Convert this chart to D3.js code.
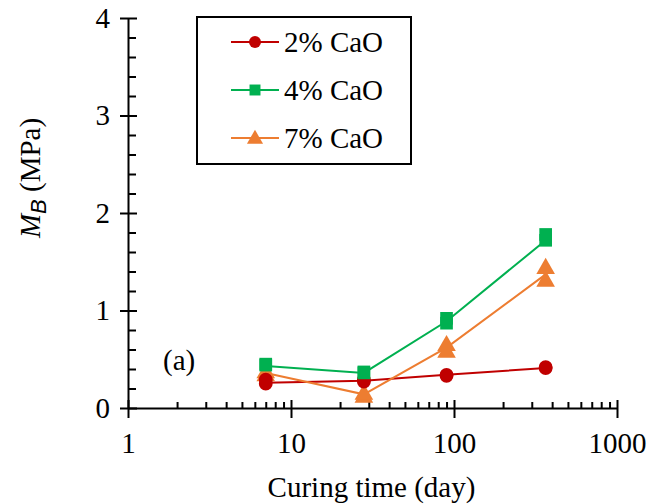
<!DOCTYPE html>
<html>
<head>
<meta charset="utf-8">
<script src="https://cdn.jsdelivr.net/npm/d3@7"></script>
<style>
  html, body { margin: 0; padding: 0; background: #fff; }
  svg { display: block; }
  text { font-family: "Liberation Serif", "Times New Roman", serif; }
</style>
</head>
<body>
<svg id="chart" width="662" height="504"></svg>
<script>
// ---- data ----
const days = [7, 28, 90, 365];
const seriesNames = ["2% CaO", "4% CaO", "7% CaO"];
const cao2Line = [0.26, 0.28, 0.34, 0.41];
const cao2RepA = [0.25, 0.27, 0.33, 0.41];
const cao2RepB = [0.29, 0.29, 0.34, 0.42];
const cao4Line = [0.43, 0.36, 0.89, 1.72];
const cao4RepA = [0.44, 0.36, 0.87, 1.72];
const cao4RepB = [0.45, 0.37, 0.92, 1.78];
const cao7Line = [0.36, 0.14, 0.62, 1.37];
const cao7RepA = [0.34, 0.12, 0.58, 1.31];
const cao7RepB = [0.37, 0.15, 0.65, 1.44];
const xMajorTicks = [1, 10, 100, 1000];
const yMajorTicks = [0, 1, 2, 3, 4];
const panelLabel = "(a)";

const colors = ["#C00000", "#00B050", "#ED7D31"];
const symbols = [d3.symbolCircle, d3.symbolSquare, d3.symbolTriangle];
const symSizes = [150, 160, 150];

const svg = d3.select("#chart");
const x = d3.scaleLog().domain([1, 1000]).range([128, 617]);
const y = d3.scaleLinear().domain([0, 4]).range([408, 18]);
const FS = 29;

// ---- axes ----
const xMinor = x.ticks().filter(v => !xMajorTicks.includes(v));
const yMinor = y.ticks(20).filter(v => !yMajorTicks.includes(v));

function styleAxis(g) {
  g.selectAll("path, line").attr("stroke", "#000").attr("stroke-width", 2);
  g.selectAll("text").attr("fill", "#000").style("font-family", '"Liberation Serif", serif').style("font-size", FS + "px");
}

svg.append("g").attr("transform", `translate(0,${y(0)})`)
  .call(d3.axisBottom(x).tickValues(xMajorTicks).tickFormat(d3.format("d")).tickSizeInner(10).tickSizeOuter(0).tickPadding(14))
  .call(styleAxis)
  .call(g => g.select(".domain").remove());
svg.append("g").attr("transform", `translate(0,${y(0)})`)
  .call(d3.axisTop(x).tickValues(xMajorTicks).tickFormat("").tickSizeInner(8).tickSizeOuter(0))
  .call(styleAxis)
  .call(g => g.select(".domain").remove());
svg.append("g").attr("transform", `translate(0,${y(0)})`)
  .call(d3.axisTop(x).tickValues(xMinor).tickFormat("").tickSizeInner(6).tickSizeOuter(0))
  .call(styleAxis);

svg.append("g").attr("transform", `translate(${x(1)},0)`)
  .call(d3.axisLeft(y).tickValues(yMajorTicks).tickFormat(d3.format("d")).tickSizeInner(8).tickSizeOuter(0).tickPadding(10))
  .call(styleAxis)
  .call(g => g.select(".domain").remove());
svg.append("g").attr("transform", `translate(${x(1)},0)`)
  .call(d3.axisRight(y).tickValues(yMajorTicks).tickFormat("").tickSizeInner(9).tickSizeOuter(0))
  .call(styleAxis)
  .call(g => g.select(".domain").remove());
svg.append("g").attr("transform", `translate(${x(1)},0)`)
  .call(d3.axisRight(y).tickValues(yMinor).tickFormat("").tickSizeInner(8).tickSizeOuter(0))
  .call(styleAxis);

// axis titles
svg.append("text").attr("x", (x(1) + x(1000)) / 2 - 1).attr("y", 497)
  .attr("text-anchor", "middle").style("font-size", FS + "px").text("Curing time (day)");

const yt = svg.append("text").attr("transform", "translate(40,178) rotate(-90)")
  .attr("text-anchor", "middle").style("font-size", FS + "px");
yt.append("tspan").style("font-style", "italic").text("M");
yt.append("tspan").attr("dy", 6).style("font-family", '"Liberation Sans", Arial, sans-serif').style("font-style", "italic").style("font-size", "22px").text("B");
yt.append("tspan").attr("dy", -6).text(" (MPa)");

// ---- series ----
const lines = [cao2Line, cao4Line, cao7Line];
const repsA = [cao2RepA, cao4RepA, cao7RepA];
const repsB = [cao2RepB, cao4RepB, cao7RepB];
const lineGen = d3.line().x(d => x(d[0])).y(d => y(d[1]));

lines.forEach((vals, i) => {
  svg.append("path").datum(days.map((d, j) => [d, vals[j]]))
    .attr("d", lineGen).attr("fill", "none").attr("stroke", colors[i]).attr("stroke-width", 2);
});
[2, 0, 1].forEach(i => {
  const pts = days.map((d, j) => [d, repsA[i][j]]).concat(days.map((d, j) => [d, repsB[i][j]]));
  svg.append("g").selectAll("path").data(pts).join("path")
    .attr("transform", d => `translate(${x(d[0])},${y(d[1]) + (i === 2 ? 1 : 0)})`)
    .attr("d", d3.symbol().type(symbols[i]).size(symSizes[i]))
    .attr("fill", colors[i]);
});

// ---- panel label ----
svg.append("text").attr("x", 163).attr("y", 370).style("font-size", FS + "px").text(panelLabel);

// ---- legend ----
const lg = svg.append("g");
lg.append("rect").attr("x", 197).attr("y", 17).attr("width", 214).attr("height", 147)
  .attr("fill", "#fff").attr("stroke", "#000").attr("stroke-width", 2);
seriesNames.forEach((name, i) => {
  const cy = 42 + i * 48;
  lg.append("line").attr("x1", 231).attr("x2", 279).attr("y1", cy).attr("y2", cy)
    .attr("stroke", colors[i]).attr("stroke-width", 2);
  lg.append("path").attr("transform", `translate(255,${cy + (i === 2 ? 1 : 0)})`)
    .attr("d", d3.symbol().type(symbols[i]).size(symSizes[i] * 0.75)).attr("fill", colors[i]);
  lg.append("text").attr("x", 284).attr("y", cy + 10).style("font-size", FS + "px").text(name);
});
</script>
</body>
</html>
